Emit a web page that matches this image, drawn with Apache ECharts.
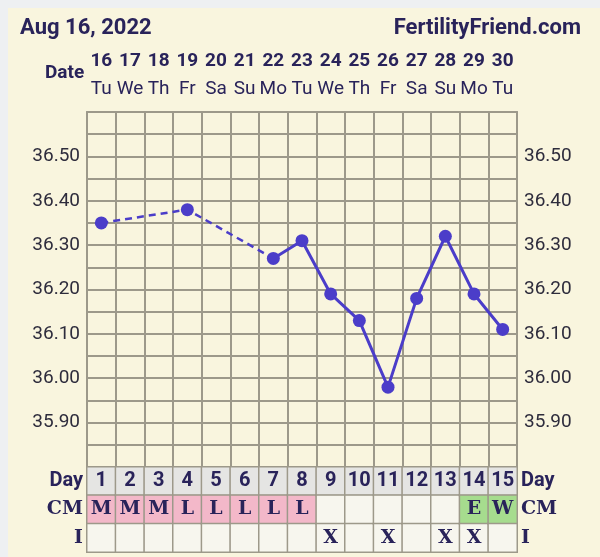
<!DOCTYPE html>
<html>
<head>
<meta charset="utf-8">
<script src="https://cdn.jsdelivr.net/npm/echarts@6/dist/echarts.min.js"></script>
<style>
html,body{margin:0;padding:0;background:#eef0f2;}
#chart{width:600px;height:557px;}
</style>
</head>
<body>
<div id="chart"></div>
<script>
// ---- data ----
const dates = ['16','17','18','19','20','21','22','23','24','25','26','27','28','29','30'];
const weekdays = ['Tu','We','Th','Fr','Sa','Su','Mo','Tu','We','Th','Fr','Sa','Su','Mo','Tu'];
const cycleDays = ['1','2','3','4','5','6','7','8','9','10','11','12','13','14','15'];
const temps = [36.35, null, null, 36.38, null, null, 36.27, 36.31, 36.19, 36.13, 35.98, 36.18, 36.32, 36.19, 36.11];
const cm = ['M','M','M','L','L','L','L','L','','','','','','E','W'];
const intercourse = ['','','','','','','','','X','','X','','X','X',''];
const rowNames = ['I','CM','Day'];
const yMin = 35.8, yMax = 36.6;

// ---- styles ----
const ink = '#29235a';
const gridColor = '#9d998a';
const lineColor = '#4b3dc9';
const cmColors = {M:'#f3b8c9', L:'#f3b8c9', E:'#a6dc8e', W:'#a6dc8e', '':'#f7f6ee'};
const serif = "'DejaVu Serif', serif";

// dashed connector: points adjacent to a gap
const nonNull = temps.map((v,i)=>v==null?-1:i).filter(i=>i>=0);
const dashed = temps.map(()=>null);
nonNull.forEach((idx,k)=>{
  const prev = k>0?nonNull[k-1]:null, next = k<nonNull.length-1?nonNull[k+1]:null;
  if ((prev!==null && prev!==idx-1) || (next!==null && next!==idx+1)) dashed[idx]=temps[idx];
});

const heat = [];
for (let i=0;i<15;i++){
  heat.push({name:cycleDays[i], value:[i,2,1], itemStyle:{color:'#e5e5e3'}});
  heat.push({name:cm[i], value:[i,1,1], itemStyle:{color:cmColors[cm[i]]}});
  heat.push({name:intercourse[i], value:[i,0,1], itemStyle:{color:'#f7f6ee'}});
}

const chart = echarts.init(document.getElementById('chart'), null, {renderer:'canvas'});
const axisLbl = {color:'#2e2c3c', fontSize:19, fontFamily:'Roboto'};
const yFmt = v=>{const c=Math.round(v*100); return (c%10===0 && c!==Math.round(yMin*100) && c!==Math.round(yMax*100))?(c/100).toFixed(2):'';};
const rowRich = {s:{color:ink, fontSize:20, fontWeight:'bold', fontFamily:'Roboto'},
                 f:{color:ink, fontSize:19, fontWeight:'bold', fontFamily:serif}};
chart.setOption({
  backgroundColor:'#eef0f2',
  animation:false,
  graphic:[{type:'rect', z:-10, shape:{x:8,y:8,width:592,height:549}, style:{fill:'#f9f5de'}}],
  title:[
    {text:'Aug 16, 2022', left:15, top:12, textStyle:{color:ink, fontSize:22, fontWeight:'bold', fontFamily:'Roboto'}},
    {text:'FertilityFriend.com', right:14, top:12, textStyle:{color:ink, fontSize:22, fontWeight:'bold', fontFamily:'Roboto'}},
    {text:'Date', left:40, top:59, textStyle:{color:ink, fontSize:19, fontWeight:'bold', fontFamily:'Roboto'}}
  ],
  grid:[
    {left:87, right:83, top:112, height:355},
    {left:87, right:83, top:467, height:85}
  ],
  xAxis:[
    {gridIndex:0, type:'category', data:cycleDays, boundaryGap:true,
     axisLine:{show:true, lineStyle:{color:gridColor, width:2}}, axisTick:{show:false}, axisLabel:{show:false},
     splitLine:{show:true, lineStyle:{color:gridColor, width:2}}},
    {gridIndex:0, type:'category', data:dates, position:'top', boundaryGap:true,
     axisLine:{show:true, lineStyle:{color:gridColor, width:2}}, axisTick:{show:false},
     axisLabel:{margin:9, interval:0, formatter:(v,i)=>'{d|'+v+'}\n{w|'+weekdays[i]+'}',
       rich:{d:{color:ink, fontSize:19, fontWeight:'bold', fontFamily:'Roboto', lineHeight:28},
             w:{color:ink, fontSize:19, fontFamily:'Roboto', lineHeight:28}}}},
    {gridIndex:1, type:'category', data:cycleDays, boundaryGap:true,
     axisLine:{show:false}, axisTick:{show:false}, axisLabel:{show:false}, splitLine:{show:false}}
  ],
  yAxis:[
    {gridIndex:0, type:'value', min:yMin, max:yMax, interval:0.05, position:'left',
     axisLine:{show:true, lineStyle:{color:gridColor, width:2}}, axisTick:{show:false},
     splitLine:{show:true, lineStyle:{color:gridColor, width:2}},
     axisLabel:Object.assign({margin:7, formatter:yFmt}, axisLbl)},
    {gridIndex:0, type:'value', min:yMin, max:yMax, interval:0.05, position:'right',
     axisLine:{show:true, lineStyle:{color:gridColor, width:2}}, axisTick:{show:false}, splitLine:{show:false},
     axisLabel:Object.assign({margin:7, formatter:yFmt}, axisLbl)},
    {gridIndex:1, type:'category', data:rowNames, position:'left',
     axisLine:{show:false}, axisTick:{show:false},
     axisLabel:{margin:4, formatter:v=>'{'+(v==='Day'?'s':'f')+'|'+v+'}', rich:rowRich}},
    {gridIndex:1, type:'category', data:rowNames, position:'right',
     axisLine:{show:false}, axisTick:{show:false},
     axisLabel:{margin:4, formatter:v=>'{'+(v==='Day'?'s':'f')+'|'+v+'}', rich:rowRich}}
  ],
  series:[
    {type:'heatmap', xAxisIndex:2, yAxisIndex:2, data:heat,
     itemStyle:{borderColor:gridColor, borderWidth:1.5},
     label:{show:true, formatter:p=>p.name===''?'':('{'+(p.value[1]===2?'s':'f')+'|'+p.name+'}'), rich:rowRich},
     emphasis:{disabled:true}},
    {type:'line', xAxisIndex:0, yAxisIndex:0, data:dashed, connectNulls:true, symbol:'none',
     lineStyle:{color:lineColor, width:2.5, type:[7,5]}, z:3},
    {type:'line', xAxisIndex:0, yAxisIndex:0, data:temps, connectNulls:false, symbol:'circle', symbolSize:13,
     itemStyle:{color:lineColor}, lineStyle:{color:lineColor, width:3}, z:4}
  ]
});
</script>
</body>
</html>
